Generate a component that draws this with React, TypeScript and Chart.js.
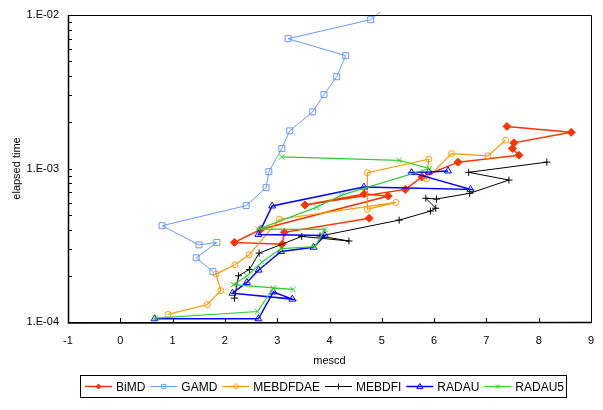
import React, { useEffect, useRef } from "react";
import { Chart, registerables } from "chart.js";

Chart.register(...registerables);

const FONT = '"Liberation Sans", Arial, Helvetica, sans-serif';

const seriesNames = ["BiMD", "GAMD", "MEBDFDAE", "MEBDFI", "RADAU", "RADAU5"];

const bimdX = [7.393, 8.622, 7.527, 7.496, 7.622, 6.458, 5.769, 5.45, 3.532, 4.664, 5.122, 2.691, 2.183, 3.094, 3.137, 4.758];
const bimdY = [1.88e-3, 1.72e-3, 1.47e-3, 1.35e-3, 1.22e-3, 1.1e-3, 8.81e-4, 7.31e-4, 5.78e-4, 6.83e-4, 6.62e-4, 4.02e-4, 3.3e-4, 3.21e-4, 3.84e-4, 4.74e-4];

const gamdX = [1.771, 1.452, 1.847, 1.504, 0.798, 2.406, 2.788, 2.84, 3.088, 3.24, 3.679, 3.895, 4.137, 4.309, 3.208, 4.786, 5.727];
const gamdY = [2.13e-4, 2.62e-4, 3.3e-4, 3.18e-4, 4.24e-4, 5.73e-4, 7.5e-4, 9.53e-4, 1.35e-3, 1.76e-3, 2.34e-3, 3.03e-3, 3.96e-3, 5.43e-3, 7.01e-3, 9.32e-3, 1.69e-2];

const mebdfdaeX = [0.912, 1.662, 1.924, 1.828, 2.191, 2.464, 3.042, 5.269, 4.725, 4.725, 5.899, 5.855, 6.332, 7.031, 7.368];
const mebdfdaeY = [1.12e-4, 1.3e-4, 1.6e-4, 2.05e-4, 2.36e-4, 2.74e-4, 4.67e-4, 6.01e-4, 5.43e-4, 9.4e-4, 1.15e-3, 8.55e-4, 1.25e-3, 1.21e-3, 1.53e-3];

const mebdfiX = [2.183, 2.26, 2.469, 2.655, 3.469, 4.372, 3.819, 5.332, 5.931, 6.032, 5.842, 6.046, 6.681, 7.431, 6.662, 8.156];
const mebdfiY = [1.43e-4, 2.0e-4, 2.2e-4, 2.81e-4, 3.61e-4, 3.37e-4, 3.63e-4, 4.61e-4, 5.28e-4, 5.51e-4, 6.4e-4, 6.33e-4, 6.89e-4, 8.41e-4, 9.44e-4, 1.1e-3];

const radauX = [0.656, 2.641, 2.927, 3.29, 2.145, 2.42, 2.645, 3.074, 3.695, 3.914, 2.641, 2.903, 4.658, 6.695, 5.569, 5.899, 6.267];
const radauY = [1.05e-4, 1.05e-4, 1.57e-4, 1.41e-4, 1.54e-4, 1.81e-4, 2.18e-4, 2.88e-4, 3.07e-4, 3.66e-4, 3.72e-4, 5.7e-4, 7.57e-4, 7.31e-4, 9.4e-4, 9.48e-4, 9.64e-4];

const radau5X = [0.67, 2.626, 2.922, 3.303, 2.164, 2.426, 2.712, 3.074, 3.723, 3.914, 2.641, 3.756, 4.229, 5.908, 5.33, 3.086];
const radau5Y = [1.06e-4, 1.17e-4, 1.66e-4, 1.63e-4, 1.75e-4, 2.0e-4, 2.46e-4, 3.01e-4, 3.1e-4, 4.01e-4, 4.03e-4, 5.6e-4, 6.71e-4, 1.0e-3, 1.13e-3, 1.19e-3];

const xTickValues = [-1, 0, 1, 2, 3, 4, 5, 6, 7, 8, 9];
const yTickValues = [1e-4, 1e-3, 1e-2];
const yTickLabels = ["1.E-04", "1.E-03", "1.E-02"];
const xTitle = "mescd";
const yTitle = "elapsed time";

type Style = { color: string; marker: string; filled: boolean; radius: number; width: number };
const styles: Style[] = [
  { color: "#FF3300", marker: "rectRot", filled: true, radius: 4, width: 1.5 },
  { color: "#6699FF", marker: "rect", filled: false, radius: 4.2, width: 1 },
  { color: "#FF9900", marker: "circle", filled: false, radius: 3, width: 1.2 },
  { color: "#000000", marker: "cross", filled: false, radius: 3.5, width: 1 },
  { color: "#0000FF", marker: "triangle", filled: false, radius: 4, width: 1.5 },
  { color: "#33CC33", marker: "crossRot", filled: false, radius: 4, width: 1.2 },
];

const seriesData = [
  [bimdX, bimdY],
  [gamdX, gamdY],
  [mebdfdaeX, mebdfdaeY],
  [mebdfiX, mebdfiY],
  [radauX, radauY],
  [radau5X, radau5Y],
];

function drawMarker(ctx: CanvasRenderingContext2D, s: Style, x: number, y: number, r: number) {
  ctx.save();
  ctx.strokeStyle = s.color;
  ctx.fillStyle = s.color;
  ctx.lineWidth = 1;
  ctx.beginPath();
  if (s.marker === "rectRot") {
    ctx.moveTo(x, y - r);
    ctx.lineTo(x + r, y);
    ctx.lineTo(x, y + r);
    ctx.lineTo(x - r, y);
    ctx.closePath();
    ctx.fill();
  } else if (s.marker === "rect") {
    ctx.rect(x - r * 0.72, y - r * 0.72, r * 1.44, r * 1.44);
    ctx.stroke();
  } else if (s.marker === "circle") {
    ctx.moveTo(x, y - r);
    ctx.lineTo(x + r, y);
    ctx.lineTo(x, y + r);
    ctx.lineTo(x - r, y);
    ctx.closePath();
    ctx.stroke();
  } else if (s.marker === "cross") {
    ctx.moveTo(x - r, y);
    ctx.lineTo(x + r, y);
    ctx.moveTo(x, y - r);
    ctx.lineTo(x, y + r);
    ctx.stroke();
  } else if (s.marker === "triangle") {
    ctx.moveTo(x, y - r);
    ctx.lineTo(x + r, y + r * 0.7);
    ctx.lineTo(x - r, y + r * 0.7);
    ctx.closePath();
    ctx.stroke();
  } else if (s.marker === "crossRot") {
    const d = r * 0.7;
    ctx.moveTo(x - d, y - d);
    ctx.lineTo(x + d, y + d);
    ctx.moveTo(x + d, y - d);
    ctx.lineTo(x - d, y + d);
    ctx.stroke();
  }
  ctx.restore();
}

const framePlugin = {
  id: "excelFrame",
  afterDraw(chart: any) {
    const ctx: CanvasRenderingContext2D = chart.ctx;
    const a = chart.chartArea;
    const xs = chart.scales.x;
    const ys = chart.scales.y;
    ctx.save();
    ctx.strokeStyle = "#000";
    ctx.fillStyle = "#000";
    ctx.lineWidth = 1;
    // frame
    ctx.beginPath();
    ctx.rect(Math.round(a.left) + 0.5, Math.round(a.top) + 0.5, Math.round(a.right - a.left), Math.round(a.bottom - a.top));
    ctx.stroke();
    ctx.lineWidth = 1.5;
    ctx.beginPath();
    ctx.moveTo(Math.round(a.left) + 0.5, Math.round(a.top));
    ctx.lineTo(Math.round(a.left) + 0.5, Math.round(a.bottom) + 1);
    ctx.lineTo(Math.round(a.right) + 1, Math.round(a.bottom) + 0.5);
    ctx.stroke();
    ctx.lineWidth = 1;
    // x ticks (inside)
    ctx.font = `11px ${FONT}`;
    ctx.textAlign = "center";
    ctx.textBaseline = "middle";
    ctx.beginPath();
    for (const v of xTickValues) {
      const px = Math.round(xs.getPixelForValue(v)) + 0.5;
      ctx.moveTo(px, a.bottom);
      ctx.lineTo(px, a.bottom - 4);
    }
    ctx.stroke();
    for (const v of xTickValues) {
      ctx.fillText(String(v), xs.getPixelForValue(v), a.bottom + 19);
    }
    // y ticks (inside, major + minor)
    ctx.beginPath();
    for (let d = -4; d < -2; d++) {
      for (let m = 1; m <= 9; m++) {
        const v = m * Math.pow(10, d);
        const py = Math.round(ys.getPixelForValue(v)) + 0.5;
        ctx.moveTo(a.left, py);
        ctx.lineTo(a.left + 4, py);
      }
    }
    ctx.stroke();
    ctx.textAlign = "right";
    yTickValues.forEach((v, i) => {
      ctx.fillText(yTickLabels[i], a.left - 9, ys.getPixelForValue(v));
    });
    // titles
    ctx.textAlign = "center";
    ctx.fillText(xTitle, (a.left + a.right) / 2, a.bottom + 39);
    ctx.save();
    ctx.translate(17, (a.top + a.bottom) / 2);
    ctx.rotate(-Math.PI / 2);
    ctx.fillText(yTitle, 0, 0);
    ctx.restore();
    // legend
    const lx = 80, ly = 375, lw = 486, lh = 22;
    ctx.lineWidth = 1;
    ctx.strokeStyle = "#000";
    ctx.strokeRect(lx + 0.5, ly + 0.5, lw, lh);
    ctx.font = `12px ${FONT}`;
    ctx.textAlign = "left";
    const cy = ly + lh / 2 + 0.5;
    let x = lx + 5;
    seriesNames.forEach((name, i) => {
      const s = styles[i];
      ctx.strokeStyle = s.color;
      ctx.lineWidth = s.width;
      ctx.beginPath();
      ctx.moveTo(x, cy);
      ctx.lineTo(x + 27, cy);
      ctx.stroke();
      drawMarker(ctx, s, x + 13.5, cy, 3);
      ctx.fillStyle = "#000";
      ctx.fillText(name, x + 31, cy + 1);
      x += 31 + ctx.measureText(name).width + 5;
    });
    ctx.restore();
  },
};

export default function App() {
  const ref = useRef<HTMLCanvasElement | null>(null);
  useEffect(() => {
    document.body.style.margin = "0";
    const canvas = ref.current;
    if (!canvas) return;
    const datasets = seriesNames.map((name, i) => {
      const [xs, ys] = seriesData[i];
      const s = styles[i];
      return {
        label: name,
        data: xs.map((x, j) => ({ x, y: ys[j] })),
        showLine: true,
        borderColor: s.color,
        backgroundColor: s.color,
        borderWidth: s.width,
        pointStyle: s.marker,
        pointRadius: s.radius,
        pointHoverRadius: s.radius,
        pointBorderColor: s.color,
        pointBackgroundColor: s.filled ? s.color : "rgba(0,0,0,0)",
        pointBorderWidth: 1,
        tension: 0,
        fill: false,
        order: 5 - i,
        clip: { left: 5, right: 5, bottom: 5, top: 3 },
      };
    });
    const chart = new Chart(canvas, {
      type: "scatter",
      data: { datasets },
      options: {
        responsive: false,
        animation: false,
        devicePixelRatio: 1,
        layout: { padding: { left: 68, right: 12, top: 15, bottom: 88 } },
        plugins: { legend: { display: false }, tooltip: { enabled: false } },
        events: [],
        scales: {
          x: { type: "linear", display: false, min: -1, max: 9 },
          y: { type: "logarithmic", display: false, min: 1e-4, max: 1e-2 },
        },
      },
      plugins: [framePlugin],
    } as any);
    return () => chart.destroy();
  }, []);
  return (
    <div style={{ width: 603, height: 410, background: "#fff" }}>
      <canvas ref={ref} width={603} height={410} style={{ display: "block", width: 603, height: 410 }} />
    </div>
  );
}
